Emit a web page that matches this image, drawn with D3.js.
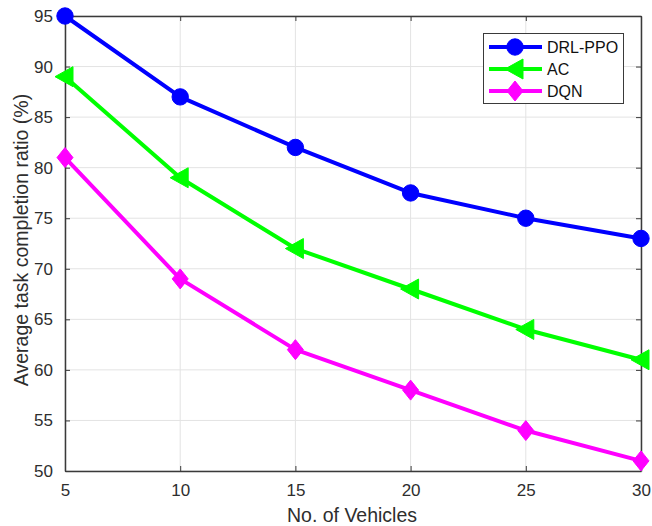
<!DOCTYPE html>
<html>
<head>
<meta charset="utf-8">
<script src="https://cdn.jsdelivr.net/npm/d3@7"></script>
<style>
  html, body { margin: 0; padding: 0; background: #fff; }
  svg { display: block; font-family: "Liberation Sans", Arial, sans-serif; }
</style>
</head>
<body>
<svg id="chart" width="652" height="526"></svg>
<script>
const vehicles = [5, 10, 15, 20, 25, 30];
const drlPpo = [95, 87, 82, 77.5, 75, 73];
const ac = [89, 79, 72, 68, 64, 61];
const dqn = [81, 69, 62, 58, 54, 51];
const xTicks = [5, 10, 15, 20, 25, 30];
const yTicks = [50, 55, 60, 65, 70, 75, 80, 85, 90, 95];
const seriesNames = ["DRL-PPO", "AC", "DQN"];
const seriesColors = ["#0000ff", "#00ff00", "#ff00ff"];
const seriesMarkers = ["circle", "triangleLeft", "diamond"];

const series = [drlPpo, ac, dqn].map((vals, i) => ({
  name: seriesNames[i], color: seriesColors[i], marker: seriesMarkers[i],
  points: vals.map((v, j) => ({x: vehicles[j], y: v}))
}));

const svg = d3.select("#chart");
const L = 65, R = 641, T = 16, B = 471;
const x = d3.scaleLinear().domain([5, 30]).range([L, R]);
const y = d3.scaleLinear().domain([50, 95]).range([B, T]);
const axisColor = "#3a3a3a";
const textColor = "#2e2e2e";

// grid
const g = svg.append("g");
g.selectAll(".gx").data(xTicks).enter().append("line")
  .attr("x1", d => x(d)).attr("x2", d => x(d)).attr("y1", T).attr("y2", B)
  .attr("stroke", "#e3e3e3").attr("stroke-width", 1);
g.selectAll(".gy").data(yTicks).enter().append("line")
  .attr("x1", L).attr("x2", R).attr("y1", d => y(d)).attr("y2", d => y(d))
  .attr("stroke", "#e3e3e3").attr("stroke-width", 1);

// axes (ticks inward)
const tl = 5;
const xb = svg.append("g").attr("transform", `translate(0,${B})`)
  .call(d3.axisBottom(x).tickValues(xTicks).tickSizeInner(-tl).tickSizeOuter(0).tickPadding(11));
const xt = svg.append("g").attr("transform", `translate(0,${T})`)
  .call(d3.axisTop(x).tickValues(xTicks).tickSizeInner(-tl).tickSizeOuter(0).tickFormat(""));
const yl = svg.append("g").attr("transform", `translate(${L},0)`)
  .call(d3.axisLeft(y).tickValues(yTicks).tickSizeInner(-tl).tickSizeOuter(0).tickPadding(12));
const yr = svg.append("g").attr("transform", `translate(${R},0)`)
  .call(d3.axisRight(y).tickValues(yTicks).tickSizeInner(-tl).tickSizeOuter(0).tickFormat(""));
[xb, xt, yl, yr].forEach(a => {
  a.selectAll("path").attr("stroke", axisColor).attr("stroke-width", 1.5);
  a.selectAll("line").attr("stroke", axisColor).attr("stroke-width", 1);
  a.selectAll("text").attr("fill", textColor).style("font-size", "17px")
    .style("font-family", "'Liberation Sans', Arial, sans-serif");
});
xb.selectAll("text").attr("dy", "0.85em");

// lines and markers
const line = d3.line().x(d => x(d.x)).y(d => y(d.y));
const symbolPath = (m) => {
  if (m === "circle") return d3.symbol().type(d3.symbolCircle).size(Math.PI * 8.2 * 8.2)();
  if (m === "diamond") return "M0,-10L8,0L0,10L-8,0Z";
  return "M-10,0L8,-10L8,10Z";
};
series.forEach(s => {
  svg.append("path").datum(s.points).attr("d", line)
    .attr("fill", "none").attr("stroke", s.color).attr("stroke-width", 4)
    .attr("stroke-linejoin", "round");
  svg.selectAll(null).data(s.points).enter().append("path")
    .attr("transform", d => `translate(${x(d.x)},${y(d.y)})`)
    .attr("d", symbolPath(s.marker)).attr("fill", s.color).attr("stroke", s.color).attr("stroke-width", 1);
});

// legend
const lg = svg.append("g");
lg.append("rect").attr("x", 483.5).attr("y", 33.5).attr("width", 140).attr("height", 70)
  .attr("fill", "#fff").attr("stroke", "#3a3a3a").attr("stroke-width", 1);
series.forEach((s, i) => {
  const ly = 47 + i * 22;
  lg.append("line").attr("x1", 489).attr("x2", 542).attr("y1", ly).attr("y2", ly)
    .attr("stroke", s.color).attr("stroke-width", 4);
  lg.append("path").attr("transform", `translate(515,${ly})`).attr("d", symbolPath(s.marker))
    .attr("fill", s.color).attr("stroke", s.color);
  lg.append("text").attr("x", 547).attr("y", ly).attr("dy", "0.36em")
    .attr("fill", "#111").style("font-size", "16px").text(s.name);
});

// axis titles
svg.append("text").attr("x", 352).attr("y", 522).attr("text-anchor", "middle")
  .attr("fill", textColor).style("font-size", "19.5px").text("No. of Vehicles");
svg.append("text").attr("transform", `translate(28,${240}) rotate(-90)`).attr("text-anchor", "middle")
  .attr("fill", textColor).style("font-size", "19.5px").text("Average task completion ratio (%)");
</script>
</body>
</html>
